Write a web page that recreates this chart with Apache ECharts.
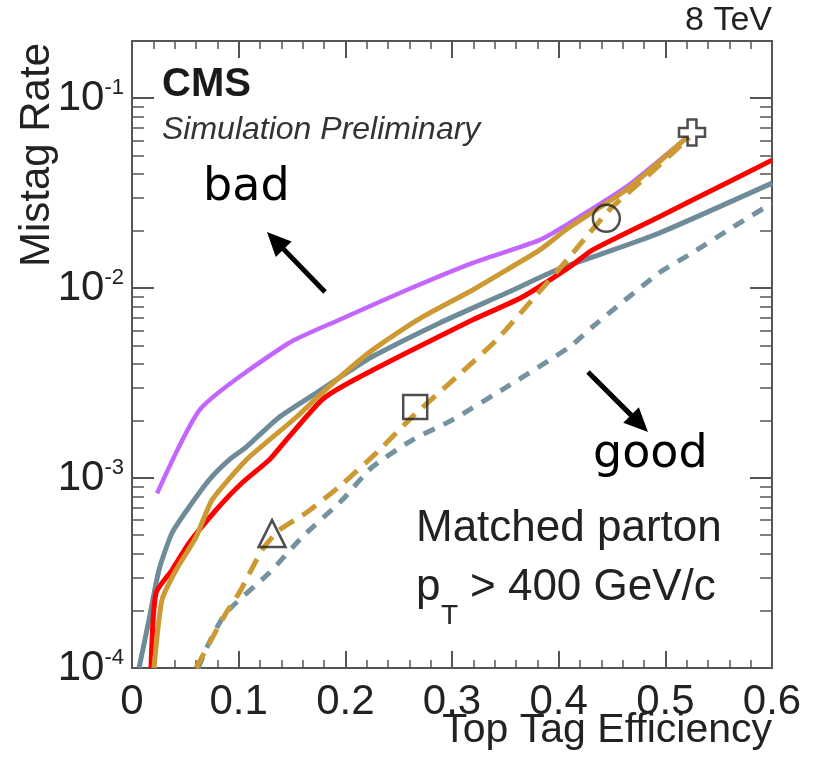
<!DOCTYPE html>
<html><head><meta charset="utf-8">
<script src="https://cdn.jsdelivr.net/npm/echarts@6/dist/echarts.min.js"></script>
<style>html,body{margin:0;padding:0;background:#fff}#c{width:816px;height:760px}</style>
</head><body><div id="c"></div>
<script>
// ---- data (x = top tag efficiency, y = mistag rate) ----
const xTickValues = [0, 0.1, 0.2, 0.3, 0.4, 0.5, 0.6];
const yDecadeExponents = [-4, -3, -2, -1];
const purpleSolid = [[0.0235,8.3e-4],[0.0647,2.33e-3],[0.147,5.14e-3],[0.194,6.8e-3],[0.257,9.75e-3],[0.319,1.355e-2],[0.382,1.79e-2],[0.41,2.2e-2],[0.463,3.4e-2],[0.52,6.2e-2]];
const goldSolid = [[0.0206,1e-4],[0.0281,2.28e-4],[0.0413,3.28e-4],[0.060,4.89e-4],[0.075,7.66e-4],[0.107,1.245e-3],[0.1285,1.585e-3],[0.154,2.09e-3],[0.178,2.8e-3],[0.2036,3.75e-3],[0.225,4.7e-3],[0.272,7.03e-3],[0.319,9.75e-3],[0.351,1.245e-2],[0.382,1.585e-2],[0.41,2.09e-2],[0.463,3.28e-2],[0.52,6.2e-2]];
const graySolid = [[0.0066,1e-4],[0.0159,1.79e-4],[0.0253,3.28e-4],[0.0375,5.14e-4],[0.0535,7.03e-4],[0.0722,9.75e-4],[0.091,1.245e-3],[0.107,1.455e-3],[0.138,2.09e-3],[0.1726,2.8e-3],[0.2036,3.65e-3],[0.225,4.35e-3],[0.288,6.54e-3],[0.351,9.42e-3],[0.398,1.245e-2],[0.4315,1.455e-2],[0.494,1.945e-2],[0.6,3.57e-2]];
const redSolid = [[0.0178,1e-4],[0.0225,2.48e-4],[0.0375,3.28e-4],[0.0535,4.55e-4],[0.0788,6.79e-4],[0.103,9.42e-4],[0.1285,1.245e-3],[0.1445,1.585e-3],[0.178,2.58e-3],[0.2,3.1e-3],[0.257,4.55e-3],[0.319,6.79e-3],[0.366,8.98e-3],[0.41,1.29e-2],[0.4315,1.585e-2],[0.494,2.37e-2],[0.557,3.57e-2],[0.6,4.72e-2]];
const goldDashed = [[0.06,1e-4],[0.0882,1.95e-4],[0.1004,2.48e-4],[0.122,4.18e-4],[0.138,5.32e-4],[0.163,6.55e-4],[0.194,8.98e-4],[0.2317,1.4e-3],[0.2627,2.1e-3],[0.304,3.4e-3],[0.3415,5.32e-3],[0.375,8.65e-3],[0.41,1.455e-2],[0.4287,1.945e-2],[0.45,2.67e-2],[0.482,3.84e-2],[0.5225,6.2e-2]];
const grayDashed = [[0.062,1e-4],[0.0722,1.355e-4],[0.088,1.95e-4],[0.1285,3.16e-4],[0.1595,4.89e-4],[0.197,7.66e-4],[0.225,1.14e-3],[0.2627,1.585e-3],[0.300,2.02e-3],[0.351,3.01e-3],[0.41,4.89e-3],[0.4315,6.24e-3],[0.494,1.2e-2],[0.525,1.53e-2],[0.563,2.09e-2],[0.6,2.8e-2]];
const plusPoint = [[0.525,6.6e-2]];
const circlePoint = [[0.4447,2.33e-2]];
const squarePoint = [[0.2655,2.37e-3]];
const trianglePoint = [[0.1313,5.1e-4]];

// ---- styling ----
const FONT = '"Liberation Sans", Arial, Helvetica, sans-serif';
const HAND = '"DejaVu Sans", sans-serif';
const AX = '#555';
const yMax = 0.2;
const logMax = Math.log10(yMax);
const minorLog = [];
yDecadeExponents.forEach(n => { for (let k = 2; k <= 9; k++) { const v = Math.log10(k) + n; if (v < logMax) minorLog.push(v); } });

const chart = echarts.init(document.getElementById('c'), null, {renderer: 'canvas'});

function xAx(pos, labels) {
  return {
    type: 'value', position: pos, min: 0, max: 0.6, interval: 0.1,
    axisLine: {show: true, lineStyle: {color: AX, width: 2}},
    axisTick: {show: true, inside: true, length: 17, lineStyle: {color: AX, width: 2}},
    minorTick: {show: true, splitNumber: 5, length: 8, lineStyle: {color: AX, width: 1.5}},
    splitLine: {show: false}, minorSplitLine: {show: false},
    axisLabel: {show: labels, margin: 13, fontFamily: FONT, fontSize: 42, color: '#222',
      formatter: v => v === 0 ? '0' : v.toFixed(1)}
  };
}
function yTickAx(pos, vals, len, labels) {
  return {
    type: 'value', position: pos, min: -4, max: logMax,
    axisLine: {show: pos === 'right', lineStyle: {color: AX, width: 2}},
    axisTick: {show: true, inside: true, length: len, customValues: vals, lineStyle: {color: AX, width: len > 15 ? 2 : 1.5}},
    splitLine: {show: false},
    axisLabel: labels ? {show: true, margin: 8, customValues: yDecadeExponents,
      formatter: v => '{b|10}{s|' + v + '}',
      rich: {b: {fontFamily: FONT, fontSize: 42, color: '#222'},
             s: {fontFamily: FONT, fontSize: 22, color: '#222', verticalAlign: 'top'}}} : {show: false}
  };
}

const lineS = (data, color, type, z, width) => ({
  type: 'line', data, xAxisIndex: 0, yAxisIndex: 0, showSymbol: false, symbol: 'none', z,
  smooth: 0.2,
  lineStyle: {color, width: width || 5, type}, clip: true, silent: true
});
const markS = (data, symbol, size) => ({
  type: 'scatter', data, xAxisIndex: 0, yAxisIndex: 0, symbol, symbolSize: size, z: 10,
  itemStyle: {color: 'rgba(0,0,0,0)', borderColor: '#222', borderWidth: 2.5}, silent: true
});

function arrow(x1, y1, x2, y2) {
  const dx = x2 - x1, dy = y2 - y1, L = Math.hypot(dx, dy), ux = dx / L, uy = dy / L;
  const hl = 24, hw = 11;
  const bx = x2 - ux * hl, by = y2 - uy * hl;
  return [
    {type: 'line', shape: {x1, y1, x2: bx + ux * 4, y2: by + uy * 4}, style: {stroke: '#000', lineWidth: 5}, z: 20},
    {type: 'polygon', shape: {points: [[x2, y2], [bx - uy * hw, by + ux * hw], [bx + uy * hw, by - ux * hw]]}, style: {fill: '#000'}, z: 20}
  ];
}
const txt = (x, y, text, font, align, fill, extra) => Object.assign({
  type: 'text', x, y, z: 20, style: {text, font, align, verticalAlign: 'middle', fill: fill || '#222'}
}, extra || {});

chart.setOption({
  animation: false,
  backgroundColor: '#fff',
  grid: {left: 132, right: 44, top: 41, bottom: 92, containLabel: false},
  xAxis: [xAx('bottom', true), xAx('top', false)],
  yAxis: [
    {type: 'log', logBase: 10, min: 1e-4, max: yMax, position: 'left',
     axisLine: {show: true, lineStyle: {color: AX, width: 2}}, axisTick: {show: false}, axisLabel: {show: false}, splitLine: {show: false}},
    yTickAx('left', yDecadeExponents, 22, true),
    yTickAx('left', minorLog, 12, false),
    yTickAx('right', yDecadeExponents, 22, false),
    yTickAx('right', minorLog, 12, false)
  ],
  series: [
    lineS(purpleSolid, '#c266ff', 'solid', 2, 4.5),
    lineS(grayDashed, '#7592a0', [12, 10], 3),
    lineS(graySolid, '#6e8b99', 'solid', 4),
    lineS(redSolid, '#ff0000', 'solid', 5),
    lineS(goldDashed, '#cc9933', [17, 10], 6),
    lineS(goldSolid, '#cc9933', 'solid', 7),
    markS(plusPoint, 'path://M3.3,0 H6.7 V3.3 H10 V6.7 H6.7 V10 H3.3 V6.7 H0 V3.3 H3.3 Z', 26),
    markS(circlePoint, 'circle', 27),
    markS(squarePoint, 'rect', 24),
    markS(trianglePoint, 'triangle', 27)
  ],
  graphic: [
    txt(772, 21, '8 TeV', '34px ' + FONT, 'right'),
    txt(162, 85, 'CMS', 'bold 40px ' + FONT, 'left', '#1a1a1a'),
    txt(162, 130, 'Simulation Preliminary', 'italic 32px ' + FONT, 'left', '#333'),
    txt(203, 188, 'bad', '46px ' + HAND, 'left', '#000'),
    txt(593, 455, 'good', '46px ' + HAND, 'left', '#000'),
    txt(416, 529, 'Matched parton', '44px ' + FONT, 'left'),
    txt(416, 588, 'p', '44px ' + FONT, 'left'),
    txt(441, 616, 'T', '28px ' + FONT, 'left'),
    txt(470, 588, '> 400 GeV/c', '44px ' + FONT, 'left'),
    txt(772, 731, 'Top Tag Efficiency', '41px ' + FONT, 'right'),
    txt(37, 43, 'Mistag Rate', '42px ' + FONT, 'right', '#222', {rotation: Math.PI / 2}),
    ...arrow(325, 292, 267, 232),
    ...arrow(588, 372, 648, 432)
  ]
});
</script>
</body></html>
